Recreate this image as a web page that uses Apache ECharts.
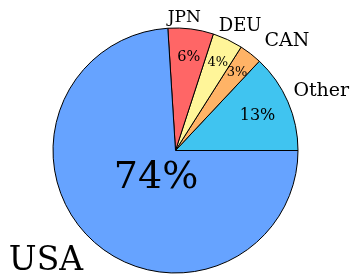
<!DOCTYPE html>
<html>
<head>
<meta charset="utf-8">
<script src="https://cdn.jsdelivr.net/npm/echarts@6/dist/echarts.min.js"></script>
<style>
  html, body { margin: 0; padding: 0; background: #fff; }
  #pie { width: 352px; height: 274px; }
</style>
</head>
<body>
<div id="pie"></div>
<script>
// data, counter-clockwise from 3 o'clock
var countries = ['Other', 'CAN', 'DEU', 'JPN', 'USA'];
var shares = [13, 3, 4, 6, 74];

// styling per slice
var sliceColors = ['#40c4f0', '#ffb366', '#fff599', '#ff6666', '#66a3ff'];
var pctSizes = [16, 13, 13, 14.5, 38];
var nameSizes = [19, 19, 18, 17, 33];
var pctNudge = [[-12, 4], [-3, -1], [-4, 0], [-4, 3], [52, -43]];
var nameNudge = [[10, -3], [19, 3], [-1, 5], [-14, 8], [-27, 7]];

var myChart = echarts.init(document.getElementById('pie'));

var FONT = 'DejaVu Serif';
var CENTER = [175.5, 150.5];
var R = 122.5;

function slices(kind) {
    return countries.map(function (c, i) {
        var item = { name: c, value: shares[i] };
        if (kind === 'pct') {
            item.label = { fontSize: pctSizes[i], offset: pctNudge[i] };
        } else if (kind === 'name') {
            item.label = { fontSize: nameSizes[i], offset: nameNudge[i] };
        } else {
            item.itemStyle = { color: sliceColors[i] };
        }
        return item;
    });
}

// invisible copy of the pie, only used to place text along each slice's middle
function textRing(inner, dist, fmt, kind) {
    return {
        type: 'pie',
        center: CENTER,
        radius: [0, inner],
        startAngle: 0,
        clockwise: false,
        silent: true,
        avoidLabelOverlap: false,
        itemStyle: { color: 'rgba(0,0,0,0)', borderWidth: 0 },
        emphasis: { disabled: true },
        label: {
            show: true,
            position: 'outside',
            formatter: fmt,
            color: '#000',
            fontFamily: FONT
        },
        labelLine: { show: false, length: dist, length2: 0 },
        labelLayout: function () {
            return { align: 'center', verticalAlign: 'middle' };
        },
        data: slices(kind)
    };
}

var option = {
    animation: false,
    textStyle: { fontFamily: FONT },
    series: [
        {
            type: 'pie',
            center: CENTER,
            radius: [0, R],
            startAngle: 0,
            clockwise: false,
            silent: true,
            avoidLabelOverlap: false,
            itemStyle: { borderColor: '#000', borderWidth: 1 },
            label: { show: false },
            labelLine: { show: false },
            emphasis: { disabled: true },
            data: slices(null)
        },
        textRing(77, 20, '{c}%', 'pct'),
        textRing(R, 20, '{b}', 'name')
    ]
};

myChart.setOption(option);
</script>
</body>
</html>
